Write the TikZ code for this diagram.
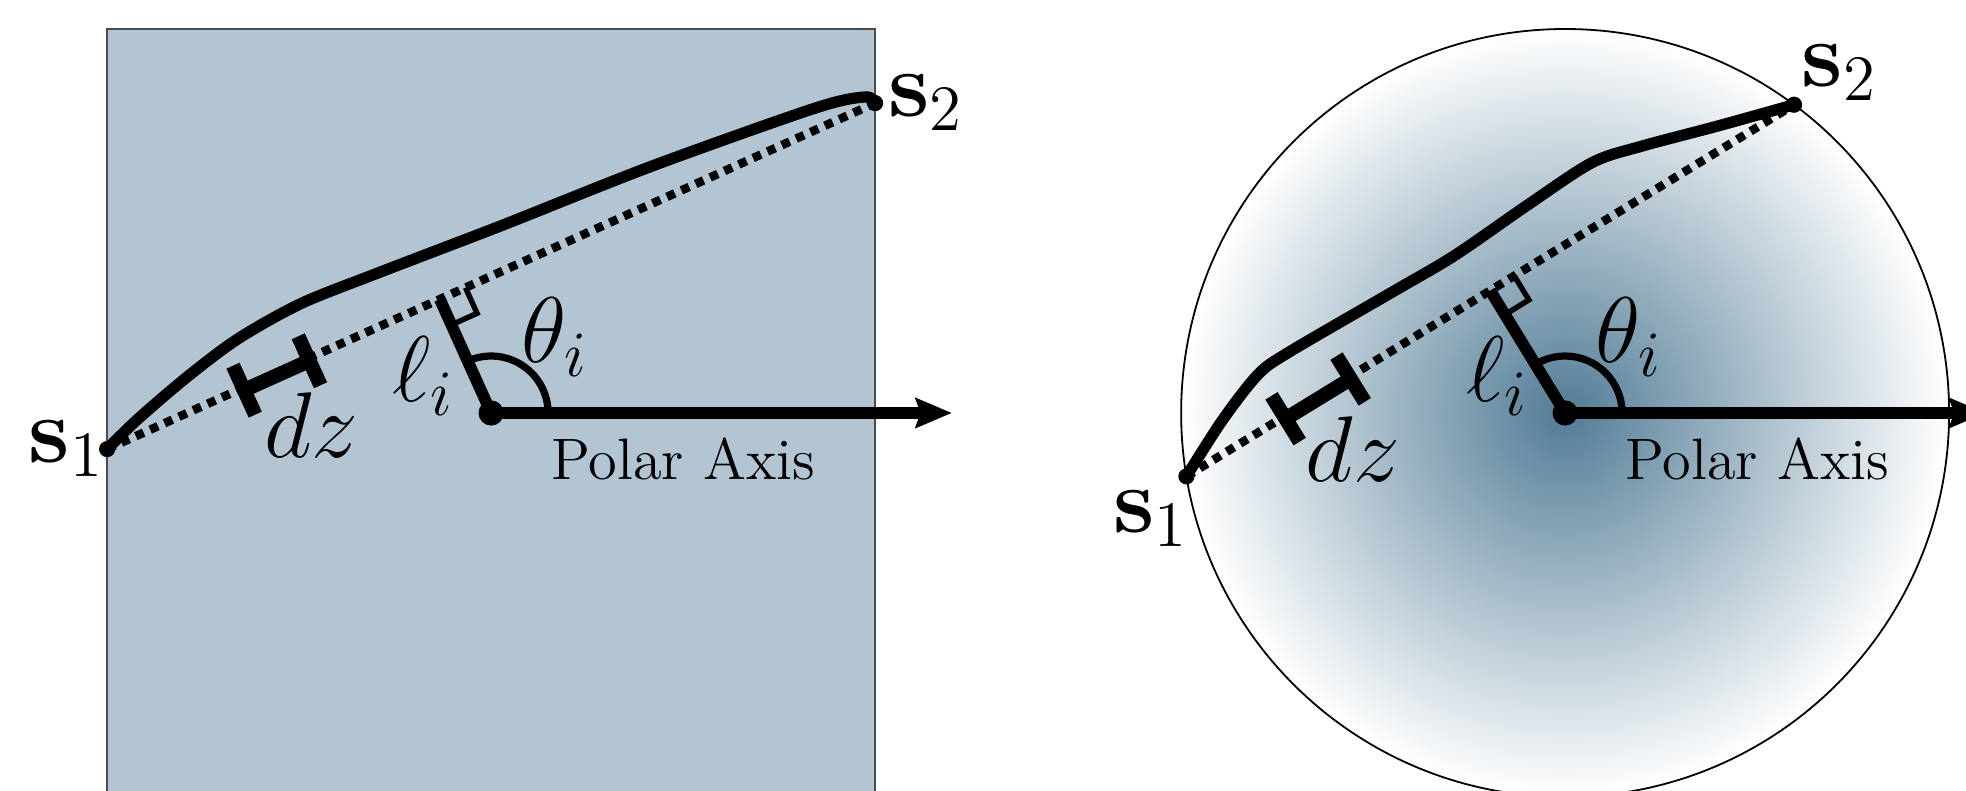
\documentclass[tikz,border=0pt]{standalone}
\usepackage{amsmath}
\usetikzlibrary{arrows.meta,calc}
\definecolor{placa}{RGB}{179,197,210}
\definecolor{nucleo}{RGB}{82,124,150}
\tikzset{
  >={Stealth[length=8pt, width=6.5pt, inset=1pt]},
  eje/.style={->, line width=2.6pt},
  curva/.style={line width=2.5pt, line join=round},
  cuerda/.style={line width=1.9pt, dash pattern=on 1.9pt off 1.6pt},
  brazo/.style={line width=2.6pt},
  tramo/.style={line width=3.2pt},
  arco/.style={line width=1.6pt},
  recto/.style={line width=1.2pt},
  etiqueta/.style={inner sep=1.5pt, font=\huge},
  rotulo/.style={inner sep=0pt, font=\fontsize{13}{15}\selectfont},
}

\begin{document}
\begin{tikzpicture}[x=3cm, y=3cm]
  \path[use as bounding box, clip] (-1.279,-0.982) rectangle (3.841,1.0755);
  % slab on the left, sphere on the right
  \draw[fill=placa, draw=black!70, line width=0.4pt] (-1,-1.2) rectangle (1,1);
  \coordinate (o1) at (0,0);
  \coordinate (a1) at (-1,-0.094);
  \coordinate (b1) at (1,0.807);
  \coordinate (o2) at (2.797,0);
  \coordinate (a2) at ($(o2)+(189.5:1)$);
  \coordinate (b2) at ($(o2)+(53.4:1)$);
  \shade[inner color=nucleo, outer color=white] (o2) circle (1);
  \draw[line width=0.4pt] (o2) circle (1);

  \draw[curva] plot[smooth] coordinates {(-1,-0.094) (-0.919,-0.015) (-0.789,0.096)
    (-0.658,0.194) (-0.495,0.285) (-0.299,0.363) (0.027,0.488) (0.419,0.643)
    (0.844,0.794) (0.974,0.823) (1,0.807)};
  \draw[curva, shift={(o2)}] plot[smooth] coordinates {(189.5:1) (-0.892,-0.018)
    (-0.80,0.10) (-0.72,0.158) (-0.45,0.315) (-0.288,0.41) (-0.10,0.54)
    (0.07,0.652) (0.2,0.695) (0.40,0.748) (53.4:1)};

  \foreach \org/\sa/\sb/\ta/\tb/\len in {o1/a1/b1/0.177/0.262/1.2, o2/a2/b2/0.161/0.268/1.095} {
    \coordinate (f\org) at ($(\sa)!(\org)!(\sb)$);
    \coordinate (t\org) at ($(\sa)!\ta!(\sb)!0.02cm!-90:(\sb)$);
    \coordinate (u\org) at ($(\sa)!\tb!(\sb)!0.02cm!-90:(\sb)$);
    \draw[cuerda] (\sa) -- (\sb);
    \draw[tramo] (t\org) -- (u\org);
    \draw[tramo] ($(t\org)!0.21cm!90:(\sb)$) -- ($(t\org)!0.21cm!-90:(\sb)$);
    \draw[tramo] ($(u\org)!0.21cm!90:(\sb)$) -- ($(u\org)!0.21cm!-90:(\sb)$);
    \draw[brazo] (\org) -- (f\org);
    \draw[recto] ($(f\org)!0.22cm!(\sb)$) -- ($(f\org)!0.22cm!(\sb)!0.22cm!-90:(\sb)$)
      -- ($(f\org)!0.22cm!(\org)$);
    \draw[arco] let \p1=($(f\org)-(\org)$), \n1={atan2(\y1,\x1)} in
      ($(\org)+(0.445cm,0)$) arc[start angle=0, end angle=\n1, radius=0.445cm];
    \draw[eje] (\org) -- ($(\org)+(\len,0)$);
    \fill (\org) circle (2.8pt);
    \fill (\sa) circle (1.8pt);
    \fill (\sb) circle (1.8pt);
    \node[etiqueta] (dz\org) at ($(t\org)!0.5!(u\org)+(0.09,-0.13)$) {$dz$};
    \node[etiqueta] (l\org) at ($(\org)+(-0.176,0.095)$) {$\ell_i$};
    \node[etiqueta] (th\org) at ($(\org)+(0.166,0.197)$) {$\theta_i$};
    \node[rotulo] (eje\org) at ($(\org)+(0.5,-0.12)$) {Polar Axis};
  }

  \node[etiqueta, anchor=east] (s1izq) at ($(a1)+(0.012,0)$) {$\mathbf{s}_1$};
  \node[etiqueta, anchor=west] (s2izq) at ($(b1)+(0.015,0)$) {$\mathbf{s}_2$};
  \node[etiqueta, anchor=north east] (s1der) at ($(a2)+(0.025,-0.018)$) {$\mathbf{s}_1$};
  \node[etiqueta, anchor=south west] (s2der) at ($(b2)+(0,-0.01)$) {$\mathbf{s}_2$};
\end{tikzpicture}
\end{document}
